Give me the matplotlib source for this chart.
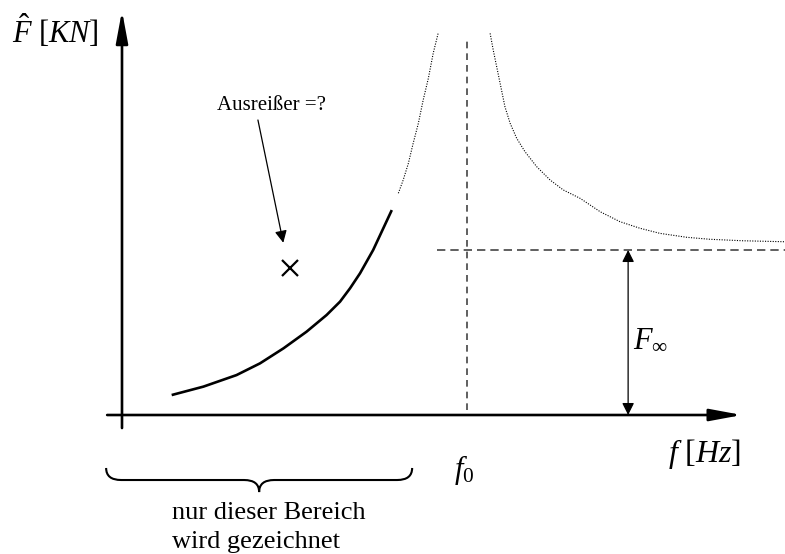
import numpy as np
import matplotlib
matplotlib.use("Agg")
import matplotlib.pyplot as plt
from matplotlib.path import Path
from matplotlib.patches import PathPatch

plt.rcParams["font.family"] = ["Liberation Serif", "DejaVu Serif"]
plt.rcParams["mathtext.fontset"] = "custom"
plt.rcParams["mathtext.rm"] = "Liberation Serif"
plt.rcParams["mathtext.it"] = "Liberation Serif:italic"
plt.rcParams["mathtext.bf"] = "Liberation Serif:bold"

# Measured (drawn) part of the response curve, f relative to f0, F relative to F_inf
f_meas = [0.144, 0.236, 0.332, 0.400, 0.468, 0.535, 0.593, 0.632, 0.661, 0.690, 0.728, 0.782]
F_meas = [0.121, 0.172, 0.242, 0.313, 0.404, 0.505, 0.606, 0.687, 0.768, 0.859, 1.000, 1.242]

# Resonance branches (not drawn in practice, shown dotted)
f_left = [0.801, 0.815, 0.830, 0.844, 0.859, 0.873, 0.888, 0.902, 0.917]
F_left = [1.344, 1.424, 1.525, 1.647, 1.768, 1.909, 2.041, 2.192, 2.319]
f_right = [1.067, 1.076, 1.086, 1.098, 1.110, 1.125, 1.144, 1.168, 1.202, 1.241,
           1.279, 1.328, 1.386, 1.443, 1.501, 1.559, 1.637, 1.704, 1.800, 1.922]
F_right = [2.313, 2.212, 2.111, 1.990, 1.868, 1.768, 1.677, 1.596, 1.505, 1.424,
           1.364, 1.313, 1.232, 1.172, 1.132, 1.101, 1.077, 1.065, 1.056, 1.050]

# Outlier point and reference levels
f_out, F_out = 0.486, 0.889
f0 = 1.0
F_inf = 1.0
f_arrow = 1.467
brace_span = [-0.046, 0.841]

fig = plt.figure(figsize=(7.85, 5.54), dpi=100)
ax = fig.add_axes([0, 0, 1, 1])
ax.set_xlim(-0.3536, 1.9217)
ax.set_ylim(-0.8424, 2.5152)
ax.axis("off")

# coordinate axes with arrow heads
ax_kw = dict(arrowstyle="-|>,head_length=0.97,head_width=0.18", lw=1.9,
             color="black", shrinkA=0, shrinkB=0, mutation_scale=20)
ax.annotate("", xy=(1.797, 0), xytext=(-0.043, 0), arrowprops=ax_kw)
ax.annotate("", xy=(0, 2.45), xytext=(0, -0.079), arrowprops=ax_kw)

# curves
ax.plot(f_meas, F_meas, color="black", lw=1.9, solid_capstyle="butt")
ax.plot(f_left, F_left, color="black", lw=0.8, ls=(0, (1, 1.3)))
ax.plot(f_right, F_right, color="black", lw=0.8, ls=(0, (1, 1.3)))

# reference lines
ax.plot([f0, f0], [0.030, 2.273], color="#444444", lw=1.2, ls=(0, (4, 3)))
ax.plot([0.913, 1.922], [F_inf, F_inf], color="#444444", lw=1.2, ls=(0, (5, 3)))

# F_inf dimension arrow
small_head = dict(arrowstyle="-|>,head_length=0.72,head_width=0.36",
                  lw=0.9, color="black", shrinkA=0, shrinkB=0, mutation_scale=10)
ax.annotate("", xy=(f_arrow, F_inf), xytext=(f_arrow, 0),
            arrowprops=dict(small_head, arrowstyle="<|-|>,head_length=0.72,head_width=0.36"))

# outlier
ax.plot([f_out], [F_out], marker="x", ms=11, mew=1.6, color="black", ls="none")
ax.text(0.432, 1.848, "Ausreißer =?", ha="center", va="baseline", fontsize=15)
ax.annotate("", xy=(0.4675, 1.044), xytext=(0.394, 1.788), arrowprops=small_head)

# labels
ax.text(-0.319, 2.255, r"$\hat{F}\ [KN]$", fontsize=22, ha="left", va="baseline")
ax.text(1.583, -0.285, r"$f\ [Hz]$", fontsize=23, ha="left", va="baseline")
ax.text(0.962, -0.382, r"$f_0$", fontsize=22, ha="left", va="baseline")
ax.text(1.481, 0.412, r"$F_\infty$", fontsize=22, ha="left", va="baseline")

# brace under the drawn range
x0, x1 = brace_span
xm = 0.5 * (x0 + x1)
r = 0.0435
y_end, y_mid, y_tip = -0.321, -0.394, -0.467
verts = [(x0, y_end), (x0, y_mid), (x0 + r, y_mid),
         (xm - r, y_mid), (xm, y_mid), (xm, y_tip),
         (xm, y_mid), (xm + r, y_mid),
         (x1 - r, y_mid), (x1, y_mid), (x1, y_end)]
codes = [Path.MOVETO, Path.CURVE3, Path.CURVE3,
         Path.LINETO, Path.CURVE3, Path.CURVE3,
         Path.CURVE3, Path.CURVE3,
         Path.LINETO, Path.CURVE3, Path.CURVE3]
ax.add_patch(PathPatch(Path(verts, codes), fill=False, lw=1.5, color="black"))

ax.text(0.145, -0.806, "nur dieser Bereich\nwird gezeichnet", fontsize=19,
        ha="left", va="baseline", linespacing=1.4)

fig.savefig("out.png", dpi=100)
